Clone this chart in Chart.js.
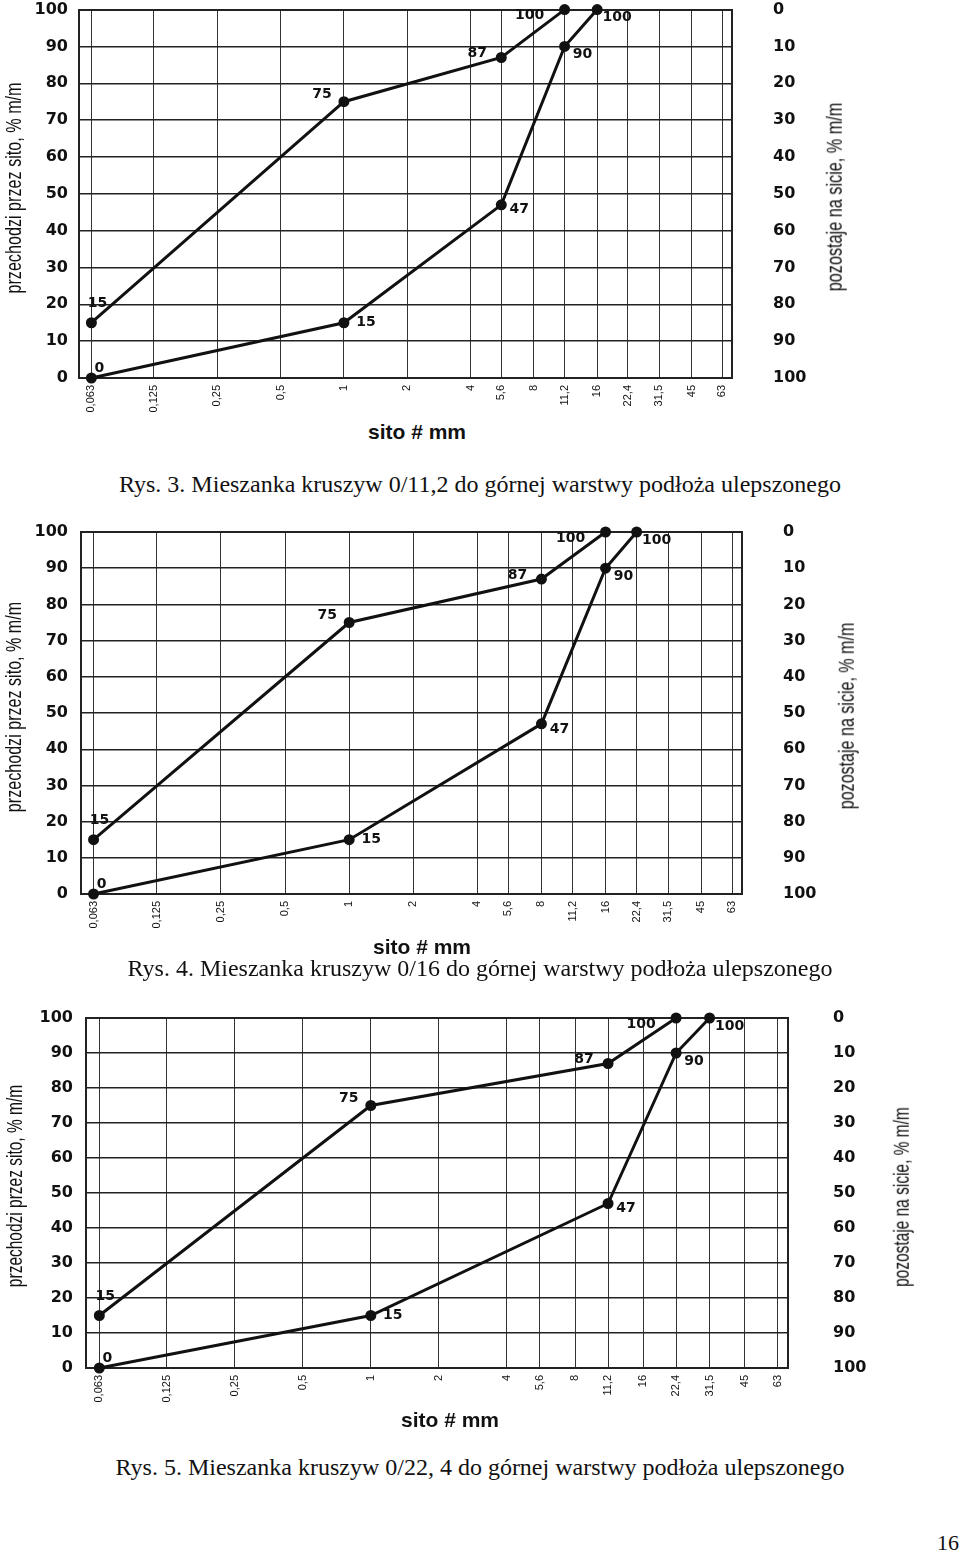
<!DOCTYPE html>
<html lang="pl">
<head>
  <meta charset="UTF-8">
  <title>Mieszanki kruszyw - krzywe uziarnienia</title>
  <script src="https://cdn.jsdelivr.net/npm/chart.js"></script>
  <style>
    body { margin: 0; background: #fff; }
    .page { position: relative; width: 960px; height: 1556px; overflow: hidden; }
    canvas { position: absolute; left: 0; display: block; }
    .vtitle, .htitle, .caption, .pnum { position: absolute; white-space: nowrap; color: #111; }
    .vtitle { font: 22px "Liberation Sans", Arial, sans-serif; transform-origin: center; }
    .htitle { font: bold 21px "Liberation Sans", Arial, sans-serif; transform: translate(-50%, -50%); }
    .caption { left: 0; width: 960px; text-align: center; font: 24px "Liberation Serif", "Times New Roman", serif; transform: translateY(-50%); }
    .pnum { font: 22px "Liberation Serif", serif; transform: translate(-50%, -50%); }
  </style>
</head>
<body>
  <div class="page" id="page">
    <canvas id="rys3" width="960" height="420" style="top:0px;"></canvas>
    <canvas id="rys4" width="960" height="420" style="top:520px;"></canvas>
    <canvas id="rys5" width="960" height="405" style="top:1005px;"></canvas>

    <div class="vtitle" data-x="13" data-y="188" data-len="211">przechodzi przez sito, % m/m</div>
    <div class="vtitle" data-x="835" data-y="197" data-len="189">pozostaje na sicie, % m/m</div>
    <div class="htitle" style="left:417px;top:432px;">sito # mm</div>
    <div class="caption" style="top:484px;">Rys. 3. Mieszanka kruszyw 0/11,2 do górnej warstwy podłoża ulepszonego</div>

    <div class="vtitle" data-x="13" data-y="707" data-len="210">przechodzi przez sito, % m/m</div>
    <div class="vtitle" data-x="847" data-y="716" data-len="187">pozostaje na sicie, % m/m</div>
    <div class="htitle" style="left:422px;top:947px;">sito # mm</div>
    <div class="caption" style="top:968px;">Rys. 4. Mieszanka kruszyw 0/16 do górnej warstwy podłoża ulepszonego</div>

    <div class="vtitle" data-x="14" data-y="1186" data-len="202">przechodzi przez sito, % m/m</div>
    <div class="vtitle" data-x="902" data-y="1197" data-len="180">pozostaje na sicie, % m/m</div>
    <div class="htitle" style="left:450px;top:1420px;">sito # mm</div>
    <div class="caption" style="top:1467px;">Rys. 5. Mieszanka kruszyw 0/22, 4 do górnej warstwy podłoża ulepszonego</div>

    <div class="pnum" style="left:948px;top:1543px;">16</div>
  </div>

  <script>
    // sita (mm) na osi x, wspolne dla wszystkich rysunkow
    const sieves = [0.063, 0.125, 0.25, 0.5, 1, 2, 4, 5.6, 8, 11.2, 16, 22.4, 31.5, 45, 63];

    // Rys. 3 - 0/11,2
    const rys3UpperSieve = [0.063, 1, 5.6, 11.2];
    const rys3Upper = [15, 75, 87, 100];
    const rys3LowerSieve = [0.063, 1, 5.6, 11.2, 16];
    const rys3Lower = [0, 15, 47, 90, 100];

    // Rys. 4 - 0/16
    const rys4UpperSieve = [0.063, 1, 8, 16];
    const rys4Upper = [15, 75, 87, 100];
    const rys4LowerSieve = [0.063, 1, 8, 16, 22.4];
    const rys4Lower = [0, 15, 47, 90, 100];

    // Rys. 5 - 0/22,4
    const rys5UpperSieve = [0.063, 1, 11.2, 22.4];
    const rys5Upper = [15, 75, 87, 100];
    const rys5LowerSieve = [0.063, 1, 11.2, 22.4, 31.5];
    const rys5Lower = [0, 15, 47, 90, 100];

    // przesuniecia etykiet wartosci wzgledem punktow (px)
    const upperOffsets = [[6, -19], [-22, -7], [-24, -4], [-35, 6]];
    const lowerOffsets = [[8, -10], [22, 0], [18, 5], [18, 8], [20, 8]];

    const ink = '#111';
    const numFont = '"DejaVu Sans", Verdana, sans-serif';

    const pointLabels = {
      id: 'pointLabels',
      afterDatasetsDraw(chart) {
        const ctx = chart.ctx;
        ctx.save();
        ctx.font = 'bold 14px ' + numFont;
        ctx.fillStyle = ink;
        ctx.textAlign = 'center';
        ctx.textBaseline = 'middle';
        chart.data.datasets.forEach((ds, i) => {
          const meta = chart.getDatasetMeta(i);
          meta.data.forEach((pt, j) => {
            const off = ds.labelOffsets[j];
            ctx.fillText(String(ds.data[j].y), pt.x + off[0], pt.y + off[1]);
          });
        });
        ctx.restore();
      }
    };

    const toPoints = (xs, ys) => xs.map((x, i) => ({ x: x, y: ys[i] }));

    const lineSet = (xs, ys, offsets) => ({
      data: toPoints(xs, ys),
      showLine: true,
      borderColor: ink,
      backgroundColor: ink,
      borderWidth: 3,
      pointRadius: 4,
      pointHoverRadius: 4,
      clip: false,
      labelOffsets: offsets
    });

    const makeChart = (id, upX, upY, loX, loY, lay) => {
      return new Chart(document.getElementById(id), {
        type: 'scatter',
        data: {
          datasets: [
            lineSet(upX, upY, upperOffsets),
            lineSet(loX, loY, lowerOffsets)
          ]
        },
        plugins: [pointLabels],
        options: {
          responsive: false,
          animation: false,
          devicePixelRatio: 1,
          layout: { padding: { top: lay.padTop, left: 0, right: 0, bottom: 0 } },
          plugins: { legend: { display: false }, tooltip: { enabled: false } },
          scales: {
            x: {
              type: 'logarithmic',
              min: 0.055,
              max: 70,
              afterBuildTicks: (s) => { s.ticks = sieves.map(v => ({ value: v })); },
              afterFit: (s) => { s.height = lay.xh; },
              grid: { color: '#333', lineWidth: 1, drawTicks: false },
              border: { display: true, color: '#222', width: 2 },
              ticks: {
                autoSkip: false,
                maxRotation: 90,
                minRotation: 90,
                padding: 7,
                color: ink,
                font: { family: '"Liberation Sans Narrow", "Liberation Sans", Arial, sans-serif', size: 11 },
                callback: (v) => String(v).replace('.', ',')
              }
            },
            y: {
              position: 'left',
              min: 0,
              max: 100,
              afterFit: (s) => { s.width = lay.leftW; },
              // niewidoczne kreski podzialki odsuwaja etykiety od wykresu
              grid: {
                color: '#222',
                lineWidth: (c) => (c.tick && c.tick.value === 100 ? 2 : 1.4),
                drawTicks: true,
                tickLength: lay.leftPad,
                tickColor: 'rgba(0,0,0,0)'
              },
              border: { display: true, color: '#222', width: 2 },
              ticks: {
                stepSize: 10,
                padding: 0,
                color: ink,
                font: { family: numFont, size: 16, weight: 'bold' }
              }
            },
            y1: {
              position: 'right',
              reverse: true,
              min: 0,
              max: 100,
              afterFit: (s) => { s.width = lay.rightW; },
              grid: {
                display: true,
                drawOnChartArea: false,
                drawTicks: true,
                tickLength: lay.rightPad,
                tickColor: 'rgba(0,0,0,0)'
              },
              border: { display: true, color: '#222', width: 2 },
              ticks: {
                stepSize: 10,
                padding: 0,
                color: ink,
                font: { family: numFont, size: 16, weight: 'bold' }
              }
            }
          }
        }
      });
    };

    makeChart('rys3', rys3UpperSieve, rys3Upper, rys3LowerSieve, rys3Lower,
      { padTop: 9, xh: 42, leftW: 79, rightW: 228, leftPad: 11, rightPad: 41 });
    makeChart('rys4', rys4UpperSieve, rys4Upper, rys4LowerSieve, rys4Lower,
      { padTop: 12, xh: 46, leftW: 81, rightW: 218, leftPad: 13, rightPad: 41 });
    makeChart('rys5', rys5UpperSieve, rys5Upper, rys5LowerSieve, rys5Lower,
      { padTop: 13, xh: 42, leftW: 86, rightW: 172, leftPad: 13, rightPad: 45 });

    // pionowe tytuly osi: obrot i dopasowanie dlugosci
    document.querySelectorAll('.vtitle').forEach((el) => {
      const w = el.offsetWidth;
      const h = el.offsetHeight;
      const k = Number(el.dataset.len) / w;
      el.style.left = (Number(el.dataset.x) - w / 2) + 'px';
      el.style.top = (Number(el.dataset.y) - h / 2) + 'px';
      el.style.transform = 'rotate(-90deg) scaleX(' + k.toFixed(3) + ')';
    });
  </script>
</body>
</html>
